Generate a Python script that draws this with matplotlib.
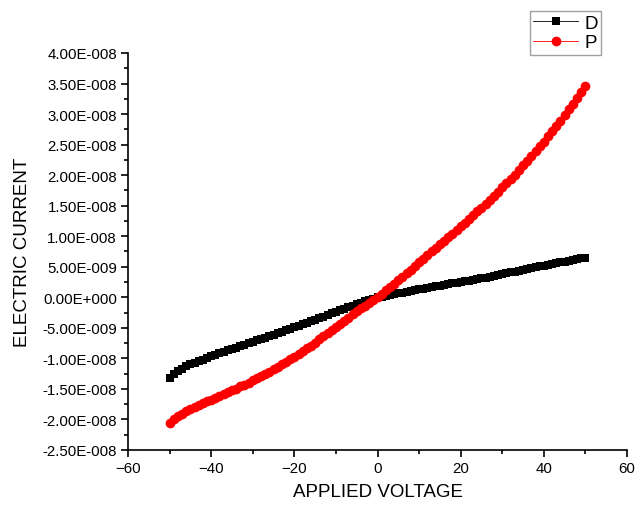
import matplotlib
matplotlib.use("Agg")
import matplotlib.pyplot as plt
from matplotlib.ticker import MultipleLocator, FuncFormatter

plt.rcParams["font.family"] = ["Liberation Sans", "DejaVu Sans"]

# applied voltage (V), 1 V steps
voltage = list(range(-50, 51))

# electric current, units of 1e-9 A
d_current = [
    -13.2, -12.6, -12.1, -11.7, -11.3, -10.95, -10.7, -10.45, -10.2, -9.9,
    -9.65, -9.4, -9.15, -8.95, -8.7, -8.5, -8.25, -8.0, -7.8, -7.55,
    -7.3, -7.05, -6.85, -6.6, -6.35, -6.1, -5.85, -5.6, -5.4, -5.15,
    -4.9, -4.65, -4.4, -4.15, -3.9, -3.65, -3.4, -3.15, -2.9, -2.65,
    -2.4, -2.15, -1.9, -1.65, -1.4, -1.15, -0.9, -0.68, -0.45, -0.22,
    0.0,
    0.13, 0.26, 0.39, 0.52, 0.65, 0.78, 0.91, 1.04, 1.17, 1.3,
    1.42, 1.54, 1.66, 1.78, 1.9, 2.02, 2.14, 2.26, 2.38, 2.5,
    2.62, 2.74, 2.86, 2.98, 3.1, 3.24, 3.38, 3.52, 3.66, 3.8,
    3.94, 4.08, 4.22, 4.36, 4.5, 4.64, 4.78, 4.92, 5.06, 5.2,
    5.33, 5.46, 5.59, 5.72, 5.85, 5.98, 6.11, 6.24, 6.37, 6.5,
]

p_current = [
    -20.5, -19.9, -19.45, -19.05, -18.65, -18.3, -17.95, -17.65, -17.35, -17.05,
    -16.75, -16.45, -16.15, -15.85, -15.55, -15.25, -14.95, -14.6, -14.3, -13.95,
    -13.6, -13.25, -12.9, -12.55, -12.2, -11.8, -11.4, -11.0, -10.6, -10.15,
    -9.7, -9.25, -8.8, -8.35, -7.9, -7.4, -6.9, -6.4, -5.9, -5.4,
    -4.9, -4.4, -3.9, -3.35, -2.8, -2.3, -1.8, -1.35, -0.9, -0.45,
    0.0,
    0.56, 1.12, 1.68, 2.24, 2.8, 3.38, 3.96, 4.55, 5.15, 5.75,
    6.33, 6.91, 7.5, 8.1, 8.7, 9.28, 9.86, 10.44, 11.02, 11.6,
    12.2, 12.82, 13.44, 14.07, 14.7, 15.35, 16.0, 16.65, 17.32, 18.0,
    18.7, 19.4, 20.1, 20.85, 21.6, 22.35, 23.12, 23.9, 24.7, 25.5,
    26.35, 27.2, 28.05, 28.9, 29.8, 30.75, 31.7, 32.65, 33.62, 34.6,
]

scale = 1e-9


def origin_sci(v, pos):
    if abs(v) < 1e-15:
        return "0.00E+000"
    s = f"{v:.2E}"
    mant, exp = s.split("E")
    e = int(exp)
    sign = "-" if e < 0 else "+"
    return f"{mant}E{sign}{abs(e):03d}"


fig = plt.figure(figsize=(6.35, 5.06), dpi=100)
ax = fig.add_axes([0.2016, 0.1087, 0.7858, 0.7846])

ax.plot(voltage, [c * scale for c in d_current], color="black", lw=0.6,
        marker="s", markersize=5.5, markeredgewidth=0, label="D")
ax.plot(voltage, [c * scale for c in p_current], color="red", lw=0.6,
        marker="o", markersize=7, markeredgewidth=0, label="P")

ax.set_xlim(-60, 60)
ax.set_ylim(-2.5e-8, 4e-8)
ax.xaxis.set_major_locator(MultipleLocator(20))
ax.xaxis.set_minor_locator(MultipleLocator(10))
ax.yaxis.set_major_locator(MultipleLocator(5e-9))
ax.yaxis.set_minor_locator(MultipleLocator(2.5e-9))
ax.yaxis.set_major_formatter(FuncFormatter(origin_sci))

for side in ("top", "right"):
    ax.spines[side].set_visible(False)
for side in ("left", "bottom"):
    ax.spines[side].set_linewidth(1.2)

ax.tick_params(which="major", direction="out", length=5, width=1.2,
               labelsize=10.8, pad=3)
ax.tick_params(which="minor", direction="out", length=3, width=1.2)

ax.set_xlabel("APPLIED VOLTAGE", fontsize=13.5, labelpad=6)
ax.set_ylabel("ELECTRIC CURRENT", fontsize=13.5, labelpad=8)

leg = fig.legend(loc="upper right", bbox_to_anchor=(0.947, 0.977),
                 fontsize=13.5, frameon=True, fancybox=False,
                 handlelength=2.4, handletextpad=0.3, borderpad=0.2,
                 labelspacing=0.15, borderaxespad=0)
leg.get_frame().set_edgecolor("#888888")
leg.get_frame().set_linewidth(1.0)

fig.savefig("out.png", dpi=100)
